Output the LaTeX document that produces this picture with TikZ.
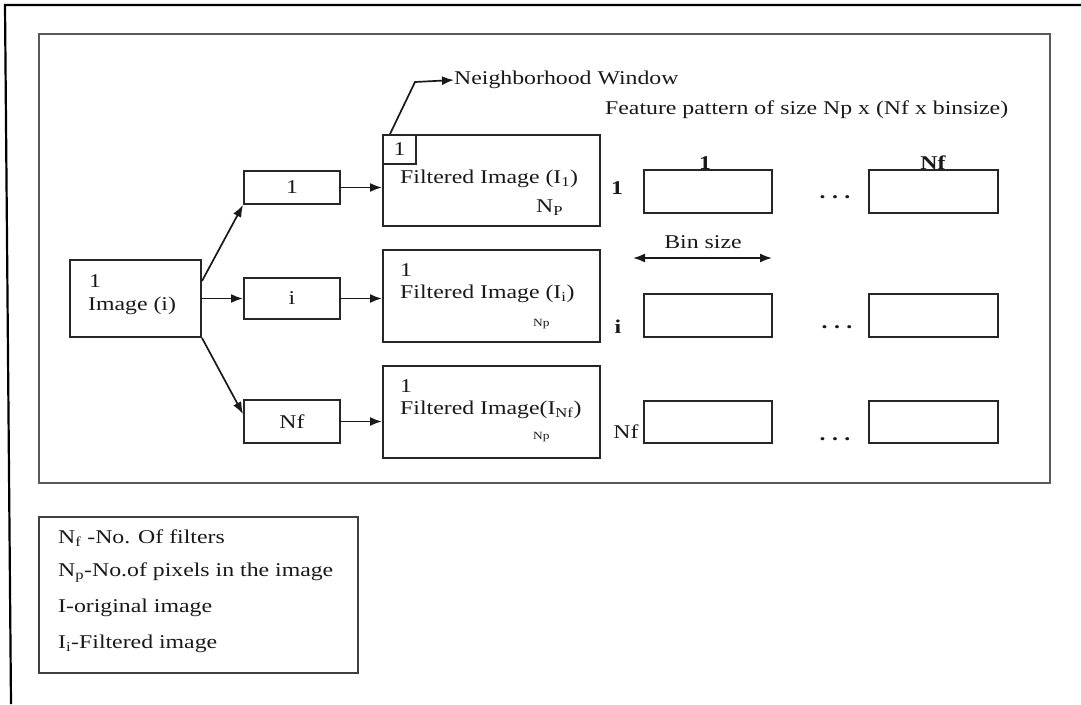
\documentclass[tikz,border=0pt]{standalone}
\usepackage{fontspec}
\setmainfont{Liberation Serif}[FakeStretch=1.22]
\usetikzlibrary{arrows.meta,calc}
\tikzset{
  box/.style={draw=black!85, line width=2pt, anchor=north west, inner sep=0pt},
  lbl/.style={text=black!90, inner sep=0pt, font=\fontsize{19.5}{22}\selectfont},
  blbl/.style={lbl, font=\fontsize{19.5}{22}\selectfont\bfseries},
  small/.style={text=black!90, inner sep=0pt, font=\fontsize{11}{13}\selectfont},
  arr/.style={draw=black!90, line width=1.7pt, -{Latex[length=12pt,width=9pt]}},
  darr/.style={draw=black!90, line width=1.7pt, {Latex[length=12pt,width=9pt]}-{Latex[length=12pt,width=9pt]}},
}
\begin{document}
\begin{tikzpicture}[x=1pt,y=-1pt]
\useasboundingbox (0,0) rectangle (1081,704);
% outer frame (only top and left visible)
\draw[line width=2.2pt, black] (1081,5) -- (5,5) -- (11,704);
% inner frame
\draw[line width=2pt, black!65] (39,34) rectangle (1050,483);
% legend
\draw[line width=2pt, black!75] (39,517) rectangle (358,673);
\node[lbl, anchor=west] (l1) at (58,538) {N\textsubscript{f} -No. Of filters};
\node[lbl, anchor=west] (l2) at (58,573) {N\textsubscript{p}-No.of pixels in the image};
\node[lbl, anchor=west] (l3) at (58,608) {I-original image};
\node[lbl, anchor=west] (l4) at (58,644) {I\textsubscript{i}-Filtered image};

% image box
\node[box, minimum width=131pt, minimum height=77pt] (img) at (69,259) {};
\node[lbl, anchor=west] (img1) at (89,281) {1};
\node[lbl, anchor=west] (imgt) at (88,306) {Image (i)};

% filter boxes
\node[box, minimum width=96pt, minimum height=33pt] (s1) at (243,170) {};
\node[lbl] (s1t) at (s1.center) {1};
\node[box, minimum width=96pt, minimum height=41pt] (si) at (243,277) {};
\node[lbl] (sit) at (si.center) {i};
\node[box, minimum width=96pt, minimum height=43pt] (snf) at (243,399) {};
\node[lbl] (snft) at (snf.center) {Nf};

% filtered image boxes
\node[box, minimum width=217pt, minimum height=91pt] (f1) at (382,134) {};
\node[box, minimum width=217pt, minimum height=92pt] (fi) at (382,249) {};
\node[box, minimum width=217pt, minimum height=92pt] (fnf) at (382,365) {};
\node[box, minimum width=33pt, minimum height=29pt] (win) at (382,134) {};
\node[lbl] (wint) at (win.center) {1};
\node[lbl, anchor=west] (f1t) at (400,179) {Filtered Image (I\textsubscript{1})};
\node[lbl, anchor=west] (f1n) at (536,208) {N\textsubscript{P}};
\node[lbl, anchor=west] (fi1) at (400,270) {1};
\node[lbl, anchor=west] (fit) at (400,294) {Filtered Image (I\textsubscript{i})};
\node[small, anchor=west] (fin) at (533,324) {Np};
\node[lbl, anchor=west] (fnf1) at (400,386) {1};
\node[lbl, anchor=west] (fnft) at (400,410) {Filtered Image(I\textsubscript{Nf})};
\node[small, anchor=west] (fnfn) at (533,437) {Np};

% neighborhood window
\coordinate (nwbend) at (415,82);
\node[lbl, anchor=west] (nw) at (454,80) {Neighborhood Window};
\draw[arr] ($(win.north west)+(8,0)$) -- (nwbend) -- (nw.west);

% feature pattern
\node[lbl, anchor=west] (fp) at (605,110) {Feature pattern of size Np x (Nf x binsize)};
\node[box, minimum width=128pt, minimum height=43pt] (a1) at (643,169) {};
\node[box, minimum width=129pt, minimum height=43pt] (b1) at (868,169) {};
\node[box, minimum width=128pt, minimum height=43pt] (ai) at (643,293) {};
\node[box, minimum width=129pt, minimum height=43pt] (bi) at (868,293) {};
\node[box, minimum width=128pt, minimum height=42pt] (anf) at (643,400) {};
\node[box, minimum width=129pt, minimum height=42pt] (bnf) at (868,400) {};
\node[blbl] (c1) at (705,163) {1};
\node[blbl] (cnf) at (933,163) {Nf};
\node[blbl] (r1) at (617,188) {1};
\node[blbl] (ri) at (618,327) {i};
\node[lbl] (rnf) at (626,432) {Nf};
\node[blbl, anchor=base] (d1) at (835,198) {.\,\,.\,\,.};
\node[blbl, anchor=base] (di) at (837,328) {.\,\,.\,\,.};
\node[blbl, anchor=base] (dnf) at (835,440) {.\,\,.\,\,.};
\node[lbl] (bs) at (703,242) {Bin size};
\coordinate (bsl) at (633,258);
\coordinate (bsr) at (772,258);
\draw[darr] (bsl) -- (bsr);

% connectors
\draw[arr] ($(img.north east)+(0,22)$) -- (s1.south west);
\draw[arr] (img.east) -- (si.west);
\draw[arr] (img.south east) -- ($(snf.north west)+(0,15)$);
\draw[arr] (s1.east) -- (s1.east -| f1.west);
\draw[arr] (si.east) -- (si.east -| fi.west);
\draw[arr] (snf.east) -- (snf.east -| fnf.west);
\end{tikzpicture}
\end{document}
